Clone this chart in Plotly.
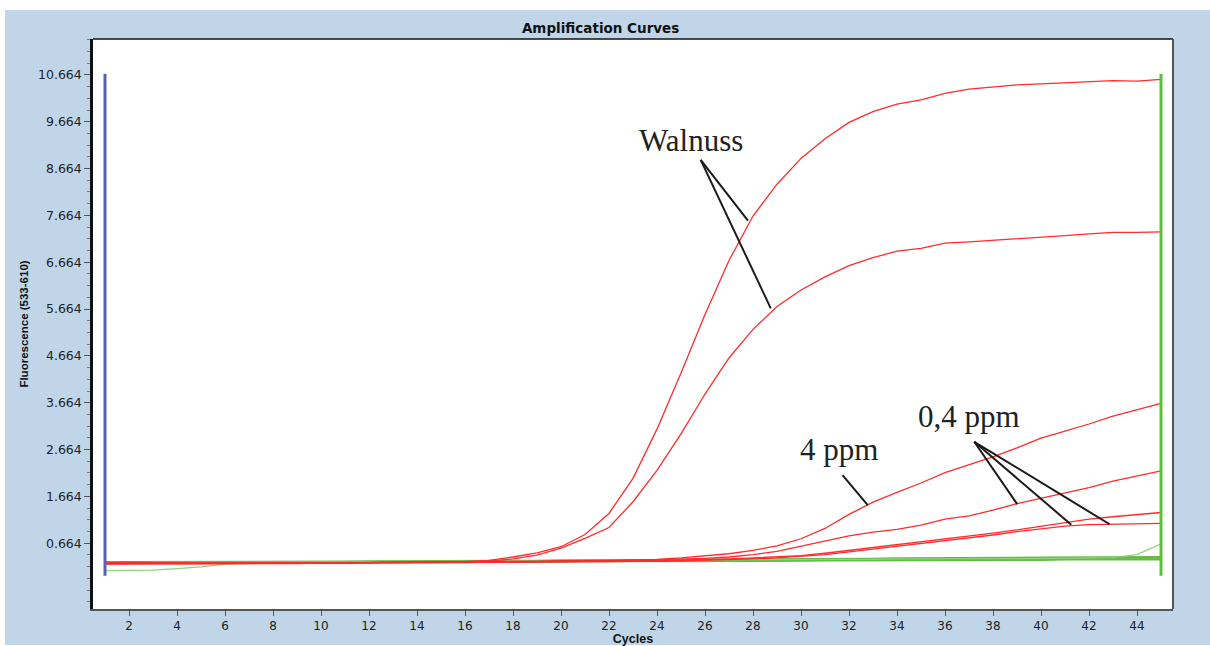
import plotly.graph_objects as go

cycles = list(range(1, 46))

walnuss_high = [0.25, 0.26, 0.25, 0.24, 0.24, 0.24, 0.24, 0.24, 0.25, 0.25, 0.25, 0.25, 0.26, 0.26, 0.27, 0.27,
                0.30, 0.37, 0.46, 0.59, 0.85, 1.30, 2.05, 3.10, 4.30, 5.55, 6.70, 7.65, 8.33, 8.88,
                9.30, 9.65, 9.88, 10.04, 10.13, 10.27, 10.36, 10.40, 10.45, 10.47, 10.49, 10.52, 10.54, 10.53, 10.57]
walnuss_low = [0.23, 0.24, 0.24, 0.23, 0.23, 0.23, 0.24, 0.24, 0.24, 0.24, 0.24, 0.25, 0.25, 0.25, 0.26, 0.26,
               0.28, 0.33, 0.41, 0.56, 0.77, 1.00, 1.55, 2.22, 3.00, 3.85, 4.62, 5.23, 5.72, 6.07,
               6.35, 6.59, 6.76, 6.90, 6.96, 7.07, 7.10, 7.13, 7.16, 7.20, 7.23, 7.27, 7.30, 7.30, 7.31]
ppm_4 = [0.24, 0.24, 0.23, 0.23, 0.24, 0.24, 0.25, 0.25, 0.25, 0.25, 0.26, 0.26, 0.26, 0.26, 0.27, 0.27,
         0.27, 0.28, 0.28, 0.29, 0.29, 0.30, 0.31, 0.32, 0.35, 0.39, 0.44, 0.51, 0.61, 0.76,
         0.98, 1.28, 1.54, 1.75, 1.95, 2.17, 2.34, 2.51, 2.70, 2.91, 3.06, 3.21, 3.38, 3.52, 3.65]
ppm_04_a = [0.24, 0.24, 0.24, 0.24, 0.24, 0.24, 0.24, 0.25, 0.25, 0.25, 0.25, 0.25, 0.26, 0.26, 0.26, 0.26,
            0.27, 0.27, 0.27, 0.28, 0.28, 0.29, 0.30, 0.31, 0.32, 0.34, 0.37, 0.42, 0.49, 0.60,
            0.71, 0.82, 0.90, 0.96, 1.05, 1.18, 1.25, 1.37, 1.51, 1.62, 1.73, 1.85, 1.99, 2.10, 2.21]
ppm_04_b = [0.22, 0.22, 0.22, 0.22, 0.23, 0.23, 0.23, 0.23, 0.23, 0.24, 0.24, 0.24, 0.24, 0.25, 0.25, 0.25,
            0.26, 0.26, 0.26, 0.27, 0.27, 0.27, 0.28, 0.29, 0.30, 0.31, 0.33, 0.35, 0.37, 0.40,
            0.45, 0.51, 0.57, 0.63, 0.70, 0.76, 0.82, 0.88, 0.95, 1.03, 1.11, 1.18, 1.23, 1.27, 1.32]
ppm_04_c = [0.23, 0.23, 0.23, 0.23, 0.23, 0.23, 0.24, 0.24, 0.24, 0.24, 0.24, 0.25, 0.25, 0.25, 0.25, 0.26,
            0.26, 0.26, 0.27, 0.27, 0.27, 0.28, 0.28, 0.28, 0.29, 0.30, 0.31, 0.33, 0.35, 0.38,
            0.42, 0.48, 0.54, 0.60, 0.66, 0.71, 0.77, 0.84, 0.91, 0.97, 1.03, 1.06, 1.07, 1.08, 1.09]

green_a = [0.08, 0.08, 0.09, 0.12, 0.16, 0.22, 0.23, 0.23, 0.24, 0.24, 0.25, 0.25, 0.25, 0.26, 0.26, 0.26,
           0.27, 0.27, 0.27, 0.27, 0.28, 0.28, 0.28, 0.28, 0.29, 0.29, 0.29, 0.29, 0.30, 0.30,
           0.30, 0.30, 0.31, 0.31, 0.31, 0.31, 0.32, 0.32, 0.32, 0.32, 0.33, 0.33, 0.33, 0.34, 0.34]
green_b = [0.26, 0.26, 0.26, 0.26, 0.26, 0.26, 0.26, 0.27, 0.27, 0.27, 0.27, 0.28, 0.28, 0.28, 0.28, 0.29,
           0.29, 0.29, 0.29, 0.30, 0.30, 0.30, 0.30, 0.31, 0.31, 0.31, 0.31, 0.32, 0.32, 0.32,
           0.33, 0.33, 0.33, 0.34, 0.34, 0.34, 0.35, 0.35, 0.35, 0.36, 0.36, 0.36, 0.37, 0.37, 0.37]
green_c = [0.25, 0.25, 0.25, 0.25, 0.26, 0.26, 0.26, 0.26, 0.26, 0.27, 0.27, 0.27, 0.27, 0.28, 0.28, 0.28,
           0.28, 0.29, 0.29, 0.29, 0.29, 0.30, 0.30, 0.30, 0.30, 0.31, 0.31, 0.31, 0.31, 0.32,
           0.32, 0.32, 0.32, 0.33, 0.33, 0.33, 0.33, 0.34, 0.34, 0.34, 0.34, 0.35, 0.36, 0.42, 0.65]
green_d = [0.24, 0.24, 0.24, 0.24, 0.24, 0.25, 0.25, 0.25, 0.25, 0.25, 0.26, 0.26, 0.26, 0.26, 0.26, 0.27,
           0.27, 0.27, 0.27, 0.27, 0.28, 0.28, 0.28, 0.28, 0.28, 0.29, 0.29, 0.29, 0.29, 0.29,
           0.30, 0.30, 0.30, 0.30, 0.30, 0.31, 0.31, 0.31, 0.31, 0.31, 0.32, 0.32, 0.32, 0.32, 0.32]

cursor_left_x = [1, 1]
cursor_right_x = [45, 45]
cursor_y = [-0.03, 10.69]

y_ticks = [0.664, 1.664, 2.664, 3.664, 4.664, 5.664, 6.664, 7.664, 8.664, 9.664, 10.664]
x_ticks = list(range(2, 46, 2))

labels = [
    ("Walnuss", 25.4, 9.26),
    ("4 ppm", 31.6, 2.66),
    ("0,4 ppm", 37.0, 3.38),
]
pointer_lines = [
    (25.82, 8.85, 27.79, 7.55),
    (25.82, 8.85, 28.74, 5.68),
    (31.73, 2.12, 32.78, 1.48),
    (37.22, 2.83, 39.01, 1.50),
    (37.22, 2.83, 41.26, 1.06),
    (37.22, 2.83, 42.86, 1.07),
]

RED = "#ff2b2b"
GREEN = "#62bb42"
LGREEN = "#8fd47a"

fig = go.Figure()

for ys, col, w in [(green_a, LGREEN, 1.2), (green_d, GREEN, 2.2), (green_b, GREEN, 2.2), (green_c, LGREEN, 1.2)]:
    fig.add_trace(go.Scatter(x=cycles, y=ys, mode="lines", line=dict(color=col, width=w), showlegend=False))

for ys in [walnuss_high, walnuss_low, ppm_4, ppm_04_a, ppm_04_b, ppm_04_c]:
    fig.add_trace(go.Scatter(x=cycles, y=ys, mode="lines", line=dict(color=RED, width=1.3), showlegend=False))

fig.add_trace(go.Scatter(x=cursor_left_x, y=cursor_y, mode="lines", line=dict(color="#5561b3", width=3), showlegend=False))
fig.add_trace(go.Scatter(x=cursor_right_x, y=cursor_y, mode="lines", line=dict(color="#5cbf3c", width=3), showlegend=False))

shapes = [
    dict(type="rect", xref="paper", yref="paper", x0=-0.0815, x1=1.05, y0=-0.0632, y1=1.0509,
         fillcolor="#c0d5e8", line=dict(width=0), layer="below"),
    dict(type="rect", xref="paper", yref="paper", x0=0, x1=1, y0=0, y1=1,
         fillcolor="white", line=dict(width=0), layer="below"),
    dict(type="line", xref="paper", yref="paper", x0=0, x1=1, y0=1, y1=1, line=dict(color="#111", width=1.5)),
    dict(type="line", xref="paper", yref="paper", x0=1, x1=1, y0=0, y1=1, line=dict(color="#555", width=2)),
]
for x0, y0, x1, y1 in pointer_lines:
    shapes.append(dict(type="line", xref="x", yref="y", x0=x0, y0=y0, x1=x1, y1=y1,
                       line=dict(color="#1a1a1a", width=2)))

annotations = [
    dict(text=t, x=x, y=y, xref="x", yref="y", showarrow=False,
         font=dict(family="Liberation Serif, Times New Roman, serif", size=31, color="#222"))
    for t, x, y in labels
]

fig.update_layout(
    width=1210, height=646,
    margin=dict(l=93, r=37, t=39, b=37, autoexpand=False),
    paper_bgcolor="white",
    plot_bgcolor="white",
    shapes=shapes,
    annotations=annotations,
    title=dict(text="<b>Amplification Curves</b>", x=0.47, xref="paper", xanchor="center",
               y=1 - 28 / 646, yref="container", yanchor="middle",
               font=dict(family="DejaVu Sans", size=13.5, color="#111")),
    xaxis=dict(range=[0.5, 45.5], tickvals=x_ticks, ticks="outside", ticklen=5, tickcolor="#555",
               tickwidth=1, showgrid=False, zeroline=False, showline=True, linecolor="#555", linewidth=2,
               tickfont=dict(family="DejaVu Sans", size=12, color="#222"),
               title=dict(text="<b>Cycles</b>", standoff=0,
                          font=dict(family="Liberation Sans, Arial", size=12.5, color="#111"))),
    yaxis=dict(range=[-0.74, 11.43], tickvals=y_ticks, ticktext=[f"{v:.3f}" for v in y_ticks],
               ticks="outside", ticklen=6, tickcolor="#555", tickwidth=1,
               minor=dict(dtick=0.25, tick0=0.664, ticks="outside", ticklen=3, tickcolor="#777", showgrid=False),
               showgrid=False, zeroline=False, showline=True, linecolor="#111", linewidth=2.5,
               tickfont=dict(family="DejaVu Sans", size=12.5, color="#222"),
               title=dict(text="<b>Fluorescence (533-610)</b>", standoff=7,
                          font=dict(family="Liberation Sans Narrow, Liberation Sans, Arial", size=11.5, color="#111"))),
)

fig.write_html("out.html")
